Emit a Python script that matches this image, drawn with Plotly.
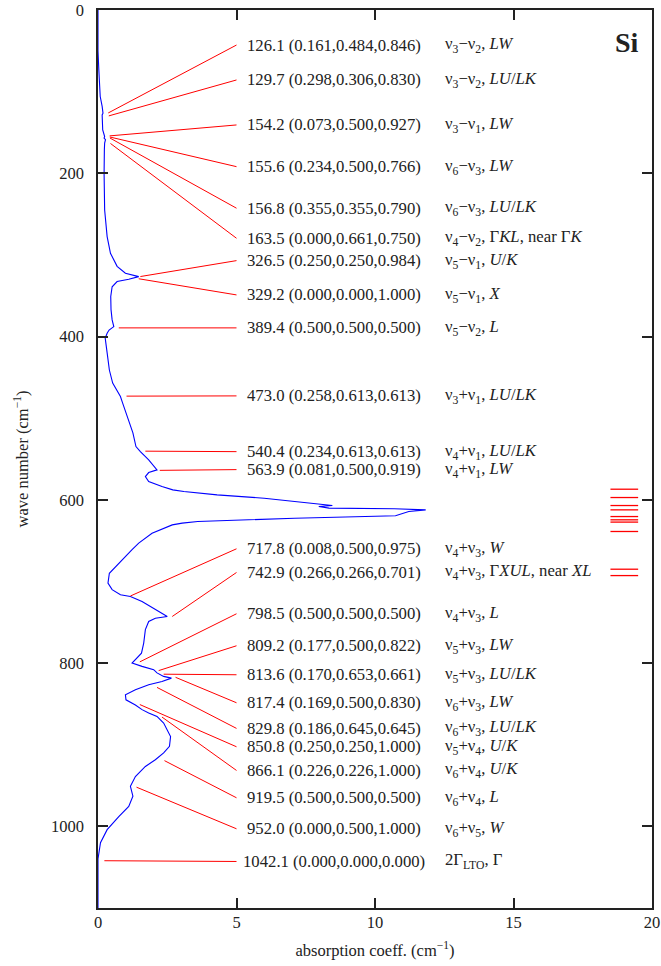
import plotly.graph_objects as go

# ---- absorption spectrum (wave number in cm^-1, absorption coeff. in cm^-1) ----
wavenumber = [0, 50, 73.5, 95, 106, 118, 126.5, 128.6, 140, 147, 155, 157, 158.7, 163, 171, 200, 245,
              277.6, 298, 314, 322.5, 326.6, 329.8, 332.6, 339, 351, 367, 379.6, 387.8, 392, 396, 402,
              420, 441, 457, 467, 473.5, 481.6, 502, 518, 534.8, 541, 551, 563.3, 566.6, 571.5, 577.6,
              583.8, 587.8, 589.8, 594, 598, 602, 605, 607, 608.2, 610.2, 611, 612.3, 614.4, 619.6,
              622.5, 626.6, 628.6, 630.7, 641, 653, 661, 669.5, 681.7, 690, 702, 710, 716.4, 718.4,
              724.6, 734.7, 742.9, 745, 749, 759, 775.5, 787.8, 798, 800, 804, 808, 812, 816.3, 818.4,
              822.5, 826.6, 832.7, 838.8, 845, 851.3, 857, 861, 865.4, 873.5, 890, 902, 910, 918.4,
              926.6, 939, 951, 963, 975.6, 988, 1004, 1020, 1032, 1040, 1100]
absorption = [0, 0.0, 0.03, 0.06, 0.08, 0.15, 0.18, 0.15, 0.16, 0.17, 0.24, 0.22, 0.27, 0.24, 0.23, 0.22, 0.24,
              0.33, 0.45, 0.69, 0.99, 1.47, 1.11, 0.69, 0.51, 0.46, 0.47, 0.51, 0.57, 0.40, 0.33, 0.26,
              0.33, 0.41, 0.53, 0.69, 0.81, 0.89, 1.09, 1.26, 1.37, 1.53, 1.83, 2.13, 1.83, 1.71, 1.83,
              2.31, 2.70, 3.10, 4.30, 6.00, 7.10, 8.10, 8.46, 7.97, 8.34, 10.70, 11.83, 11.22, 10.74,
              7.10, 3.60, 3.04, 2.68, 1.95, 1.47, 1.23, 0.99, 0.63, 0.41, 0.36, 0.51, 0.81, 1.17,
              1.59, 2.07, 2.50, 2.07, 1.83, 1.71, 1.65, 1.57, 1.29, 1.23, 1.59, 2.01, 2.13, 2.37, 2.65,
              2.31, 1.83, 1.35, 0.99, 1.01, 1.35, 1.59, 1.83, 2.13, 2.37, 2.62, 2.58, 2.37, 2.07,
              1.71, 1.35, 1.17, 1.26, 1.11, 0.75, 0.33, 0.09, 0.02, 0, 0]

# ---- assigned features ----
freqs = [126.1, 129.7, 154.2, 155.6, 156.8, 163.5, 326.5, 329.2, 389.4, 473.0, 540.4, 563.9,
         717.8, 742.9, 798.5, 809.2, 813.6, 817.4, 829.8, 850.8, 866.1, 919.5, 952.0, 1042.1]
qpoints = ["(0.161,0.484,0.846)", "(0.298,0.306,0.830)", "(0.073,0.500,0.927)", "(0.234,0.500,0.766)",
           "(0.355,0.355,0.790)", "(0.000,0.661,0.750)", "(0.250,0.250,0.984)", "(0.000,0.000,1.000)",
           "(0.500,0.500,0.500)", "(0.258,0.613,0.613)", "(0.234,0.613,0.613)", "(0.081,0.500,0.919)",
           "(0.008,0.500,0.975)", "(0.266,0.266,0.701)", "(0.500,0.500,0.500)", "(0.177,0.500,0.822)",
           "(0.170,0.653,0.661)", "(0.169,0.500,0.830)", "(0.186,0.645,0.645)", "(0.250,0.250,1.000)",
           "(0.226,0.226,1.000)", "(0.500,0.500,0.500)", "(0.000,0.500,1.000)", "(0.000,0.000,0.000)"]
assignments = [
    "ν<sub>3</sub>−ν<sub>2</sub>, <i>LW</i>",
    "ν<sub>3</sub>−ν<sub>2</sub>, <i>LU</i>/<i>LK</i>",
    "ν<sub>3</sub>−ν<sub>1</sub>, <i>LW</i>",
    "ν<sub>6</sub>−ν<sub>3</sub>, <i>LW</i>",
    "ν<sub>6</sub>−ν<sub>3</sub>, <i>LU</i>/<i>LK</i>",
    "ν<sub>4</sub>−ν<sub>2</sub>, Γ<i>KL</i>, near Γ<i>K</i>",
    "ν<sub>5</sub>−ν<sub>1</sub>, <i>U</i>/<i>K</i>",
    "ν<sub>5</sub>−ν<sub>1</sub>, <i>X</i>",
    "ν<sub>5</sub>−ν<sub>2</sub>, <i>L</i>",
    "ν<sub>3</sub>+ν<sub>1</sub>, <i>LU</i>/<i>LK</i>",
    "ν<sub>4</sub>+ν<sub>1</sub>, <i>LU</i>/<i>LK</i>",
    "ν<sub>4</sub>+ν<sub>1</sub>, <i>LW</i>",
    "ν<sub>4</sub>+ν<sub>3</sub>, <i>W</i>",
    "ν<sub>4</sub>+ν<sub>3</sub>, Γ<i>XUL</i>, near <i>XL</i>",
    "ν<sub>4</sub>+ν<sub>3</sub>, <i>L</i>",
    "ν<sub>5</sub>+ν<sub>3</sub>, <i>LW</i>",
    "ν<sub>5</sub>+ν<sub>3</sub>, <i>LU</i>/<i>LK</i>",
    "ν<sub>6</sub>+ν<sub>3</sub>, <i>LW</i>",
    "ν<sub>6</sub>+ν<sub>3</sub>, <i>LU</i>/<i>LK</i>",
    "ν<sub>5</sub>+ν<sub>4</sub>, <i>U</i>/<i>K</i>",
    "ν<sub>6</sub>+ν<sub>4</sub>, <i>U</i>/<i>K</i>",
    "ν<sub>6</sub>+ν<sub>4</sub>, <i>L</i>",
    "ν<sub>6</sub>+ν<sub>5</sub>, <i>W</i>",
    "2Γ<sub>LTO</sub>, Γ",
]
# absorption value where each leader line starts, and wave number where its label sits
leader_start = [0.37, 0.39, 0.42, 0.43, 0.43, 0.45, 1.53, 1.47, 0.75, 1.03, 1.71, 2.23,
                1.17, 2.68, 1.51, 2.19, 2.37, 2.80, 2.13, 1.51, 2.31, 2.40, 1.39, 0.23]
label_pos = [42.9, 85.7, 140.8, 191.9, 242.8, 279.6, 307.0, 349.0, 389.4, 472.7, 541.0, 563.0,
             660.0, 689.0, 739.6, 778.8, 814.3, 848.6, 880.0, 902.5, 931.5, 965.0, 1003.0, 1043.0]

# short marks on the right-hand side (wave numbers)
marks = [587.0, 597.2, 607.0, 612.3, 620.5, 624.5, 627.3, 638.8, 685.0, 692.8]

FONT = "Liberation Serif, Times New Roman, serif"
RED = "#ff0000"
TXT = "#222222"

fig = go.Figure()

fig.add_trace(go.Scatter(x=absorption, y=wavenumber, mode="lines",
                         line=dict(color="#0000ff", width=1.1), hoverinfo="skip"))

lx, ly = [], []
for xs, f, lp in zip(leader_start, freqs, label_pos):
    lx += [xs, 5, None]
    ly += [f, lp, None]
fig.add_trace(go.Scatter(x=lx, y=ly, mode="lines", line=dict(color=RED, width=1), hoverinfo="skip"))

mx, my = [], []
for m in marks:
    mx += [18.5, 19.5, None]
    my += [m, m, None]
fig.add_trace(go.Scatter(x=mx, y=my, mode="lines", line=dict(color=RED, width=1.3), hoverinfo="skip"))

for f, q, a, lp in zip(freqs, qpoints, assignments, label_pos):
    fig.add_annotation(x=8.52, y=lp, xref="x", yref="y", text=f"{f:.1f} {q}", showarrow=False,
                       xanchor="center", yanchor="middle", font=dict(family=FONT, size=16.7, color=TXT))
    fig.add_annotation(x=12.45, y=lp, xref="x", yref="y", text=a, showarrow=False,
                       xanchor="left", yanchor="middle", font=dict(family=FONT, size=16.7, color=TXT))

fig.add_annotation(x=19.6, y=40, xref="x", yref="y", text="<b>Si</b>", showarrow=False,
                   xanchor="right", yanchor="middle", font=dict(family=FONT, size=28, color=TXT))

axis_common = dict(showline=True, linecolor=TXT, linewidth=1.5, mirror="ticks", ticks="inside",
                   ticklen=10, tickwidth=1.5, tickcolor=TXT, showgrid=False, zeroline=False,
                   tickfont=dict(family=FONT, size=16.5, color=TXT))

fig.update_layout(
    width=661, height=966,
    margin=dict(l=98, r=9, t=10, b=58, autoexpand=False),
    paper_bgcolor="white", plot_bgcolor="white",
    showlegend=False,
    xaxis=dict(range=[0, 20], tickvals=[0, 5, 10, 15, 20], ticklabelstandoff=-2,
               title=dict(text="absorption coeff. (cm<sup>−1</sup>)", standoff=14,
                          font=dict(family=FONT, size=16.5, color=TXT)),
               **axis_common),
    yaxis=dict(range=[1100, 0], tickvals=[0, 200, 400, 600, 800, 1000], ticklabelstandoff=9,
               title=dict(text="wave number (cm<sup>−1</sup>)", standoff=18,
                          font=dict(family=FONT, size=16.5, color=TXT)),
               **axis_common),
)

fig.write_html("out.html", config={"displayModeBar": False},
               post_script="document.body.style.margin='0';document.body.style.padding='0';")
